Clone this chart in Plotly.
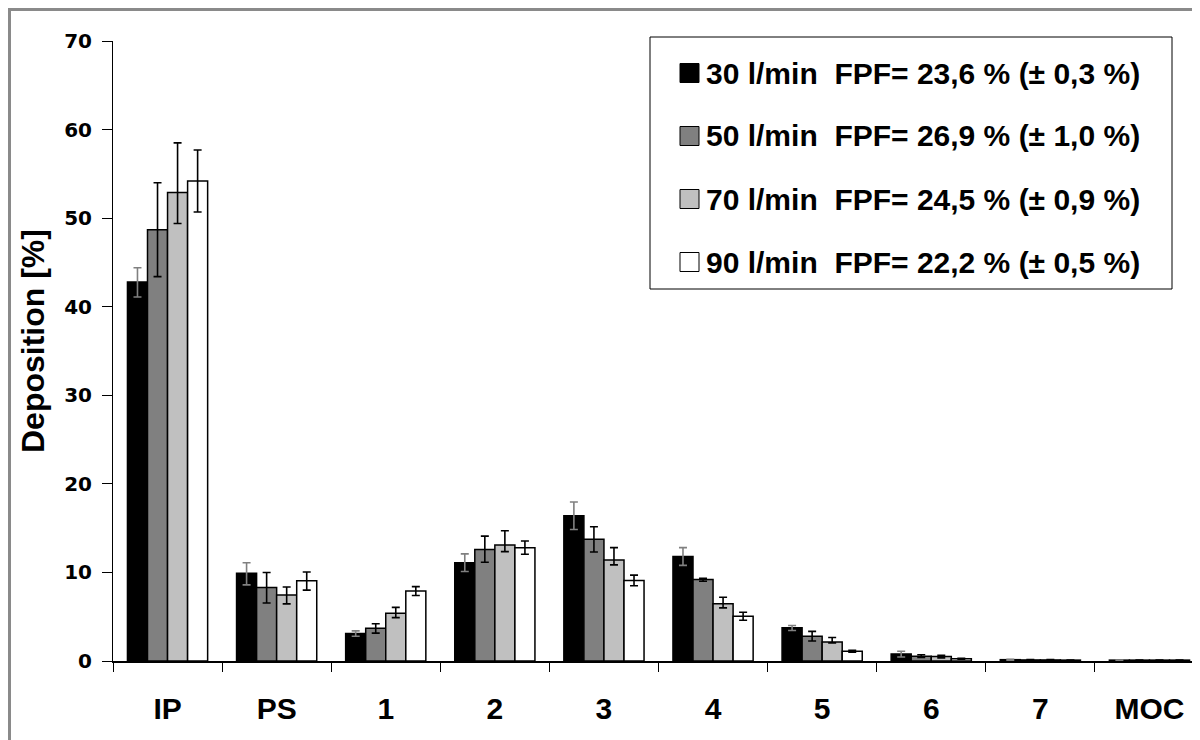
import plotly.graph_objects as go

categories = ["IP", "PS", "1", "2", "3", "4", "5", "6", "7", "MOC"]

series_names = [
    "30 l/min\u00a0\u00a0FPF= 23,6 % (± 0,3 %)",
    "50 l/min\u00a0\u00a0FPF= 26,9 % (± 1,0 %)",
    "70 l/min\u00a0\u00a0FPF= 24,5 % (± 0,9 %)",
    "90 l/min\u00a0\u00a0FPF= 22,2 % (± 0,5 %)",
]

dep_30 = [42.8, 9.9, 3.1, 11.1, 16.4, 11.8, 3.75, 0.8, 0.15, 0.1]
dep_50 = [48.7, 8.3, 3.7, 12.6, 13.75, 9.2, 2.8, 0.55, 0.12, 0.1]
dep_70 = [52.9, 7.45, 5.4, 13.1, 11.4, 6.45, 2.15, 0.5, 0.12, 0.1]
dep_90 = [54.2, 9.05, 7.9, 12.8, 9.1, 5.05, 1.1, 0.25, 0.1, 0.1]

err_up_30 = [1.6, 1.2, 0.3, 1.0, 1.55, 1.0, 0.25, 0.3, 0.05, 0.02]
err_dn_30 = [1.7, 1.3, 0.3, 1.0, 1.55, 1.0, 0.3, 0.35, 0.05, 0.02]
err_up_50 = [5.3, 1.7, 0.5, 1.5, 1.4, 0.15, 0.55, 0.15, 0.03, 0.02]
err_dn_50 = [5.3, 1.75, 0.55, 1.45, 1.45, 0.2, 0.55, 0.15, 0.03, 0.02]
err_up_70 = [5.6, 0.9, 0.65, 1.6, 1.4, 0.75, 0.5, 0.15, 0.03, 0.02]
err_dn_70 = [3.5, 1.0, 0.5, 0.75, 0.55, 0.45, 0.1, 0.15, 0.03, 0.02]
err_up_90 = [3.5, 1.0, 0.5, 0.75, 0.6, 0.45, 0.1, 0.05, 0.02, 0.02]
err_dn_90 = [3.5, 1.05, 0.5, 0.75, 0.6, 0.45, 0.1, 0.05, 0.02, 0.02]

values = [dep_30, dep_50, dep_70, dep_90]
errs_up = [err_up_30, err_up_50, err_up_70, err_up_90]
errs_dn = [err_dn_30, err_dn_50, err_dn_70, err_dn_90]
fills = ["#000000", "#808080", "#C0C0C0", "#FFFFFF"]
err_colors = ["#808080", "#000000", "#000000", "#000000"]

# page body has an 8px margin; figure coordinates = screen coordinates - 8
OFF = 8
W, H = 1200, 740
ML, MR, MT, MB = 105, 4, 33, 87
PW = W - ML - MR
PH = H - MT - MB

def px_x(px):
    return (px - OFF - ML) / PW

def px_y(py):
    return (H - MB - (py - OFF)) / PH

fig = go.Figure()
for name, vals, eu, ed, fc, ec in zip(series_names, values, errs_up, errs_dn, fills, err_colors):
    fig.add_trace(go.Bar(
        x=categories, y=vals, name=name,
        marker=dict(color=fc, line=dict(color="#000000", width=1.5)),
        error_y=dict(type="data", symmetric=False, array=eu, arrayminus=ed,
                     color=ec, thickness=1.6, width=4),
        showlegend=False,
    ))

FONT = "Liberation Sans, Arial, sans-serif"
TICKFONT = "DejaVu Sans, Verdana, sans-serif"

shapes = []
annotations = []
# outer gray frame
shapes.append(dict(type="rect", xref="paper", yref="paper",
                   x0=px_x(9.5), x1=px_x(1215), y0=px_y(760), y1=px_y(9.5),
                   line=dict(color="#8a8a8a", width=3), fillcolor="rgba(0,0,0,0)", layer="above"))
# legend box
shapes.append(dict(type="rect", xref="paper", yref="paper",
                   x0=px_x(650), x1=px_x(1172), y0=px_y(289), y1=px_y(37),
                   line=dict(color="#000000", width=1), fillcolor="#FFFFFF", layer="above"))
row_centers = [73, 136, 199, 262]
for name, fc, cy in zip(series_names, fills, row_centers):
    shapes.append(dict(type="rect", xref="paper", yref="paper",
                       x0=px_x(680), x1=px_x(699), y0=px_y(cy + 9.5), y1=px_y(cy - 9.5),
                       line=dict(color="#000000", width=1), fillcolor=fc, layer="above"))
    annotations.append(dict(xref="paper", yref="paper", x=px_x(704), y=px_y(cy),
                            xanchor="left", yanchor="middle", showarrow=False,
                            text=name, font=dict(family=FONT, size=30, color="#000000", weight="bold")))
# y-axis title
annotations.append(dict(xref="paper", yref="paper", x=px_x(33), y=px_y(341),
                        xanchor="center", yanchor="middle", showarrow=False, textangle=-90,
                        text="Deposition [%]", font=dict(family=FONT, size=32, color="#000000", weight="bold")))

fig.update_layout(
    width=W, height=H,
    margin=dict(l=ML, r=MR, t=MT, b=MB, pad=0),
    paper_bgcolor="#FFFFFF", plot_bgcolor="#FFFFFF",
    barmode="group", bargap=0.265, bargroupgap=0,
    shapes=shapes, annotations=annotations,
    showlegend=False,
    xaxis=dict(
        type="category", range=[-0.5, 9.5],
        showline=True, linecolor="#000000", linewidth=1.5,
        ticks="outside", tickson="boundaries", ticklen=9, tickcolor="#000000", tickwidth=1,
        showgrid=False, zeroline=False,
        tickfont=dict(family=FONT, size=30, color="#000000", weight="bold"),
        ticklabelstandoff=20,
    ),
    yaxis=dict(
        range=[0, 70], dtick=10, tick0=0,
        showline=True, linecolor="#000000", linewidth=1,
        ticks="outside", ticklen=10, tickcolor="#000000", tickwidth=1,
        showgrid=False, zeroline=False,
        tickfont=dict(family=TICKFONT, size=20, color="#000000", weight="bold"),
        ticklabelstandoff=6,
    ),
)

fig.write_html("out.html")
